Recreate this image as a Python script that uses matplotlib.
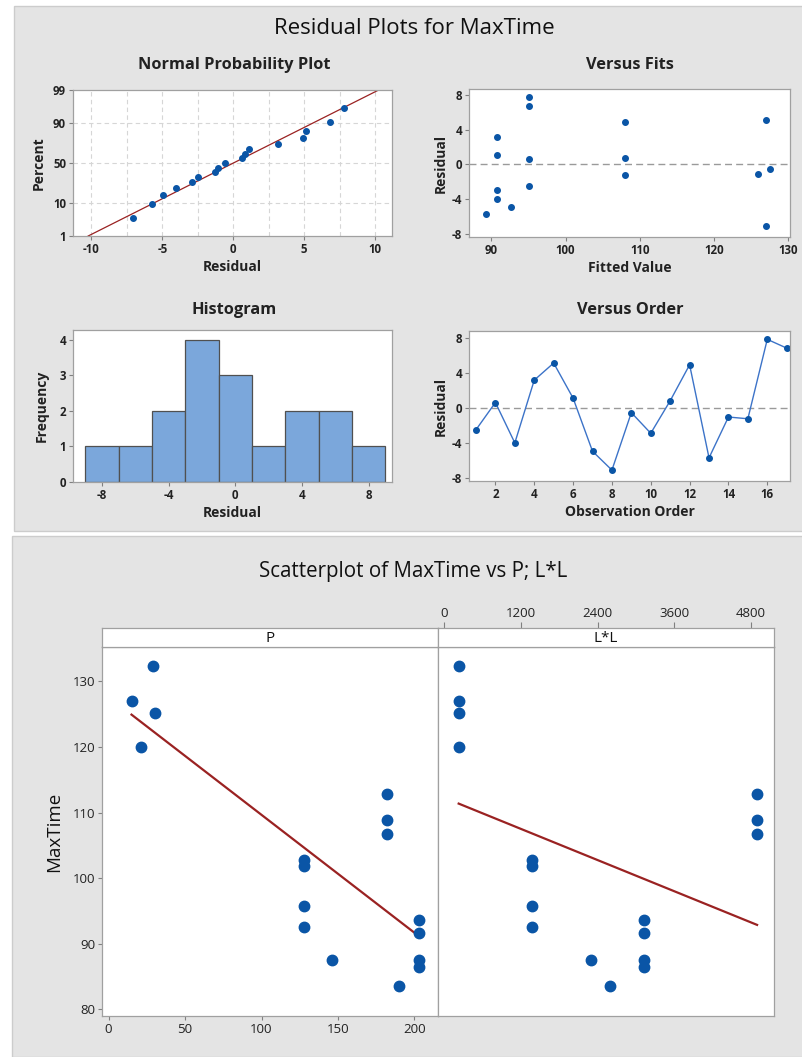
import numpy as np
import matplotlib
matplotlib.use("Agg")
import matplotlib.pyplot as plt
from matplotlib.patches import Rectangle
from statistics import NormalDist

W, H = 803, 1057

# residuals / fits in observation order
order = np.arange(1, 18)
fits = [95.1, 95.1, 90.7, 90.7, 127.0, 90.7, 92.6, 127.0, 127.6, 90.7,
        108.0, 108.0, 89.2, 126.0, 108.0, 95.1, 95.1]
resid = [-2.5, 0.6, -4.0, 3.15, 5.1, 1.1, -4.95, -7.1, -0.55, -2.9,
         0.8, 4.9, -5.7, -1.05, -1.25, 7.8, 6.8]

# raw data for the scatterplot
p_vals = [128, 128, 203, 203, 29, 203, 146, 21, 15, 203,
          182, 182, 190, 30.5, 182, 128, 128]
ll_vals = [1369, 1369, 3136, 3136, 225, 3136, 2304, 225, 225, 3136,
           4900, 4900, 2601, 225, 4900, 1369, 1369]
max_time = [92.5, 95.7, 86.5, 93.6, 132.3, 91.7, 87.5, 120.0, 127.0, 87.5,
            108.8, 112.8, 83.5, 125.2, 106.8, 102.8, 101.8]

pct_ticks = [1, 10, 50, 90, 99]
hist_bins = np.arange(-9, 10, 2)

BLUE = "#0a55a6"
RED = "#9a2222"
BG = "#e4e4e4"
SPINE = "#a0a0a0"
TXT = "#222222"

plt.rcParams["font.family"] = ["Open Sans", "DejaVu Sans"]
plt.rcParams["axes.unicode_minus"] = False


def rect(l, t, r, b):
    return [l / W, 1 - b / H, (r - l) / W, (b - t) / H]


def style(ax, size=8.3, bold=True):
    for s in ax.spines.values():
        s.set_color(SPINE)
        s.set_linewidth(0.9)
    ax.tick_params(labelsize=size, length=3, color="#808080", width=0.8,
                   pad=2, labelcolor=TXT)
    if bold:
        plt.setp(ax.get_xticklabels() + ax.get_yticklabels(), fontweight="bold")


def labels(ax, xlab, ylab, ypad):
    ax.set_xlabel(xlab, fontsize=10, fontweight="bold", color=TXT, labelpad=3)
    ax.set_ylabel(ylab, fontsize=10, fontweight="bold", color=TXT, labelpad=ypad)


fig = plt.figure(figsize=(W / 100, H / 100), dpi=100)
fig.patch.set_facecolor("white")
fig.add_artist(Rectangle((14 / W, 1 - 531 / H), (W - 14) / W, 525 / H,
                         transform=fig.transFigure, fc=BG, ec="#cccccc", lw=1,
                         zorder=-5))
fig.add_artist(Rectangle((12 / W, 0), (W - 12) / W, 1 - 536 / H,
                         transform=fig.transFigure, fc=BG, ec="#cccccc", lw=1,
                         zorder=-5))

fig.text(414 / W, 1 - 28 / H, "Residual Plots for MaxTime", ha="center",
         va="center", fontsize=16, color="#111111")
for (x, y, t) in [(234, 65, "Normal Probability Plot"), (630, 65, "Versus Fits"),
                  (234, 310, "Histogram"), (630, 310, "Versus Order")]:
    fig.text(x / W, 1 - y / H, t, ha="center", va="center", fontsize=11.8,
             fontweight="bold", color=TXT)

# normal probability plot
nd = NormalDist()
ax = fig.add_axes(rect(73, 90, 392, 236))
n = len(resid)
srt = np.sort(resid)
zs = [nd.inv_cdf((i - 0.3) / (n + 0.4)) for i in range(1, n + 1)]
zlo, zhi = nd.inv_cdf(0.01), nd.inv_cdf(0.99)
mu, sd = np.mean(resid), np.std(resid, ddof=1)
for gx in np.arange(-10, 10.1, 2.5):
    ax.axvline(gx, color="#d6d6d6", lw=0.8, ls=(0, (4, 3)), zorder=0)
for gp in [10, 50, 90]:
    ax.axhline(nd.inv_cdf(gp / 100), color="#d6d6d6", lw=0.8, ls=(0, (4, 3)), zorder=0)
ax.plot([mu + sd * zlo, mu + sd * zhi], [zlo, zhi], color=RED, lw=0.9)
ax.plot(srt, zs, "o", color=BLUE, ms=4, mec=BLUE)
ax.set_xlim(-11.3, 11.2)
ax.set_ylim(zlo, zhi)
ax.set_xticks([-10, -5, 0, 5, 10])
ax.set_yticks([nd.inv_cdf(p / 100) for p in pct_ticks])
ax.set_yticklabels([str(p) for p in pct_ticks])
style(ax)
labels(ax, "Residual", "Percent", 5)

# versus fits
ax = fig.add_axes(rect(469, 89, 790, 237))
ax.axhline(0, color="#9a9a9a", lw=1, ls=(0, (5, 3)), zorder=0)
ax.plot(fits, resid, "o", color=BLUE, ms=4)
ax.set_xlim(86.97, 130.3)
ax.set_ylim(-8.4, 8.74)
ax.set_xticks([90, 100, 110, 120, 130])
ax.set_yticks([-8, -4, 0, 4, 8])
style(ax)
labels(ax, "Fitted Value", "Residual", 3)

# histogram
ax = fig.add_axes(rect(73, 330, 392, 482))
ax.hist(resid, bins=hist_bins, fc="#7ba7db", ec="#505050", lw=0.9)
ax.set_xlim(-9.74, 9.4)
ax.set_ylim(0, 4.28)
ax.set_xticks([-8, -4, 0, 4, 8])
ax.set_yticks([0, 1, 2, 3, 4])
style(ax)
labels(ax, "Residual", "Frequency", 8)

# versus order
ax = fig.add_axes(rect(469, 331, 790, 481))
ax.axhline(0, color="#9a9a9a", lw=1, ls=(0, (5, 3)), zorder=0)
ax.plot(order, resid, "-", color="#3c73c8", lw=1)
ax.plot(order, resid, "o", color=BLUE, ms=4)
ax.set_xlim(0.64, 17.17)
ax.set_ylim(-8.34, 8.75)
ax.set_xticks(range(2, 17, 2))
ax.set_yticks([-8, -4, 0, 4, 8])
style(ax)
labels(ax, "Observation Order", "Residual", 3)

# scatterplot panels
fig.text(413 / W, 1 - 571 / H, "Scatterplot of MaxTime vs P; L*L", ha="center",
         va="center", fontsize=14.8, color="#111111")

ylim = (78.98, 135.25)
panels = [
    ("P", p_vals, (102, 438), (-4.3, 215.4), [0, 50, 100, 150, 200]),
    ("L*L", ll_vals, (438, 774), (-98.7, 5165), [0, 1200, 2400, 3600, 4800]),
]
for i, (name, xs, (l, r), xlim, xt) in enumerate(panels):
    ax = fig.add_axes(rect(l, 647, r, 1016))
    strip = fig.add_axes(rect(l, 628, r, 647), sharex=ax)
    ax.plot(xs, max_time, "o", color=BLUE, ms=7.5, mec=BLUE, zorder=3)
    b, a = np.polyfit(xs, max_time, 1)
    xl = np.array([min(xs), max(xs)])
    ax.plot(xl, a + b * xl, color=RED, lw=1.6, zorder=2)
    ax.set_xlim(xlim)
    ax.set_ylim(ylim)
    style(ax, size=9.5, bold=False)
    for s in strip.spines.values():
        s.set_color(SPINE)
        s.set_linewidth(0.9)
    strip.set_yticks([])
    strip.text(0.5, 0.45, name, transform=strip.transAxes, ha="center",
               va="center", fontsize=11, color="#111111")
    if i == 0:
        ax.set_xticks(xt)
        ax.set_yticks([80, 90, 100, 110, 120, 130])
        ax.set_ylabel("MaxTime", fontsize=13.5, color="#111111", labelpad=7)
        strip.tick_params(axis="x", length=0, labelbottom=False)
    else:
        ax.set_yticks([])
        ax.tick_params(axis="x", length=0, labelbottom=False)
        strip.set_xticks(xt)
        strip.tick_params(axis="x", top=True, bottom=False, labeltop=True,
                          labelbottom=False, labelsize=9.5, length=4,
                          color="#808080", pad=2, labelcolor=TXT)

fig.savefig("out.png", dpi=100, facecolor=fig.get_facecolor())
